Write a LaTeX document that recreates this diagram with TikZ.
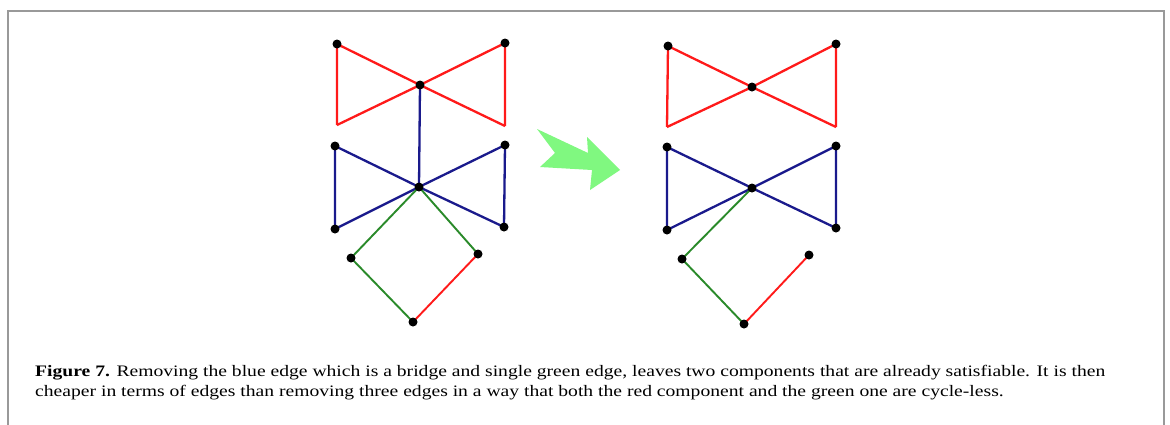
\documentclass[tikz,border=0pt]{standalone}
\usepackage{fontspec}
\setmainfont{Liberation Serif}
\usepackage{graphicx}
\definecolor{ered}{HTML}{FF1A1A}
\definecolor{eblue}{HTML}{1A1A8C}
\definecolor{egreen}{HTML}{2A8A2A}
\definecolor{arrowgreen}{HTML}{80F880}
\definecolor{framegray}{HTML}{999999}
\newsavebox{\capboxa}
\newcommand{\capfont}{\fontsize{16}{20}\selectfont}
\newcommand{\caplinea}{\textbf{Figure 7.} Removing the blue edge which is a bridge and single green edge, leaves two components that are already satisfiable. It is then}
\newcommand{\caplineb}{cheaper in terms of edges than removing three edges in a way that both the red component and the green one are cycle-less.}
\begin{document}
\sbox{\capboxa}{\capfont\caplinea}
\begin{tikzpicture}[x=1pt,y=-1pt,
  vdot/.style={circle,fill=black,inner sep=0pt,minimum size=9pt},
  redge/.style={draw=ered,line width=2.3pt},
  bedge/.style={draw=eblue,line width=2.3pt},
  gedge/.style={draw=egreen,line width=1.9pt},
  captxt/.style={anchor=base west,inner sep=0pt,font=\capfont}]
\useasboundingbox (0,0) rectangle (1170,424);
\fill[white] (0,0) rectangle (1170,424);
% frame (open at the bottom)
\draw[framegray,line width=2pt] (7.5,430) -- (7.5,11) -- (1164,11) -- (1164,430);

% ---------- left graph ----------
\coordinate (aRTL) at (337,44);
\coordinate (aRTR) at (505,43);
\coordinate (aRC)  at (420,85);
\coordinate (aRBL) at (337,125);
\coordinate (aRBR) at (505,126);
\coordinate (aBTL) at (335,146);
\coordinate (aBTR) at (505,145);
\coordinate (aBC)  at (419,187);
\coordinate (aBBL) at (335,229);
\coordinate (aBBR) at (504,227);
\coordinate (aGL)  at (351,258);
\coordinate (aGR)  at (478,254);
\coordinate (aGB)  at (413,322);

\path[redge] (aRTL) -- (aRC) (aRC) -- (aRBR) (aRBR) -- (aRTR) (aRTR) -- (aRC) (aRC) -- (aRBL) (aRBL) -- (aRTL);
\path[bedge] (aRC) -- (aBC);
\path[bedge] (aBTL) -- (aBC) (aBC) -- (aBBR) (aBBR) -- (aBTR) (aBTR) -- (aBC) (aBC) -- (aBBL) (aBBL) -- (aBTL);
\path[gedge] (aBC) -- (aGL) (aBC) -- (aGR) (aGL) -- (aGB);
\path[redge,line width=1.9pt] (aGB) -- (aGR);

\foreach \p in {aRTL,aRTR,aRC,aBTL,aBTR,aBC,aBBL,aBBR,aGL,aGR,aGB}
  \node[vdot] at (\p) {};

% ---------- arrow ----------
\fill[arrowgreen] (537,129) -- (588,153) -- (587,137) -- (620,170) -- (590,190) -- (592,170) -- (540,167) -- (555,153) -- cycle;

% ---------- right graph ----------
\coordinate (bRTL) at (668,46);
\coordinate (bRTR) at (836,44);
\coordinate (bRC)  at (752,87);
\coordinate (bRBL) at (667,127);
\coordinate (bRBR) at (836,127);
\coordinate (bBTL) at (667,147);
\coordinate (bBTR) at (836,146);
\coordinate (bBC)  at (752,188);
\coordinate (bBBL) at (667,230);
\coordinate (bBBR) at (836,228);
\coordinate (bGL)  at (682,259);
\coordinate (bGR)  at (809,255);
\coordinate (bGB)  at (744,324);

\path[redge] (bRTL) -- (bRC) (bRC) -- (bRBR) (bRBR) -- (bRTR) (bRTR) -- (bRC) (bRC) -- (bRBL) (bRBL) -- (bRTL);
\path[bedge] (bBTL) -- (bBC) (bBC) -- (bBBR) (bBBR) -- (bBTR) (bBTR) -- (bBC) (bBC) -- (bBBL) (bBBL) -- (bBTL);
\path[gedge] (bBC) -- (bGL) (bGL) -- (bGB);
\path[redge,line width=1.9pt] (bGB) -- (bGR);

\foreach \p in {bRTL,bRTR,bRC,bBTL,bBTR,bBC,bBBL,bBBR,bGL,bGR,bGB}
  \node[vdot] at (\p) {};

% ---------- caption ----------
\pgfmathsetmacro{\capscale}{1070/\wd\capboxa}
\node[captxt] (cap1) at (35,376) {\scalebox{\capscale}[1]{\caplinea}};
\node[captxt] (cap2) at (35,396) {\scalebox{\capscale}[1]{\caplineb}};
\end{tikzpicture}
\end{document}
